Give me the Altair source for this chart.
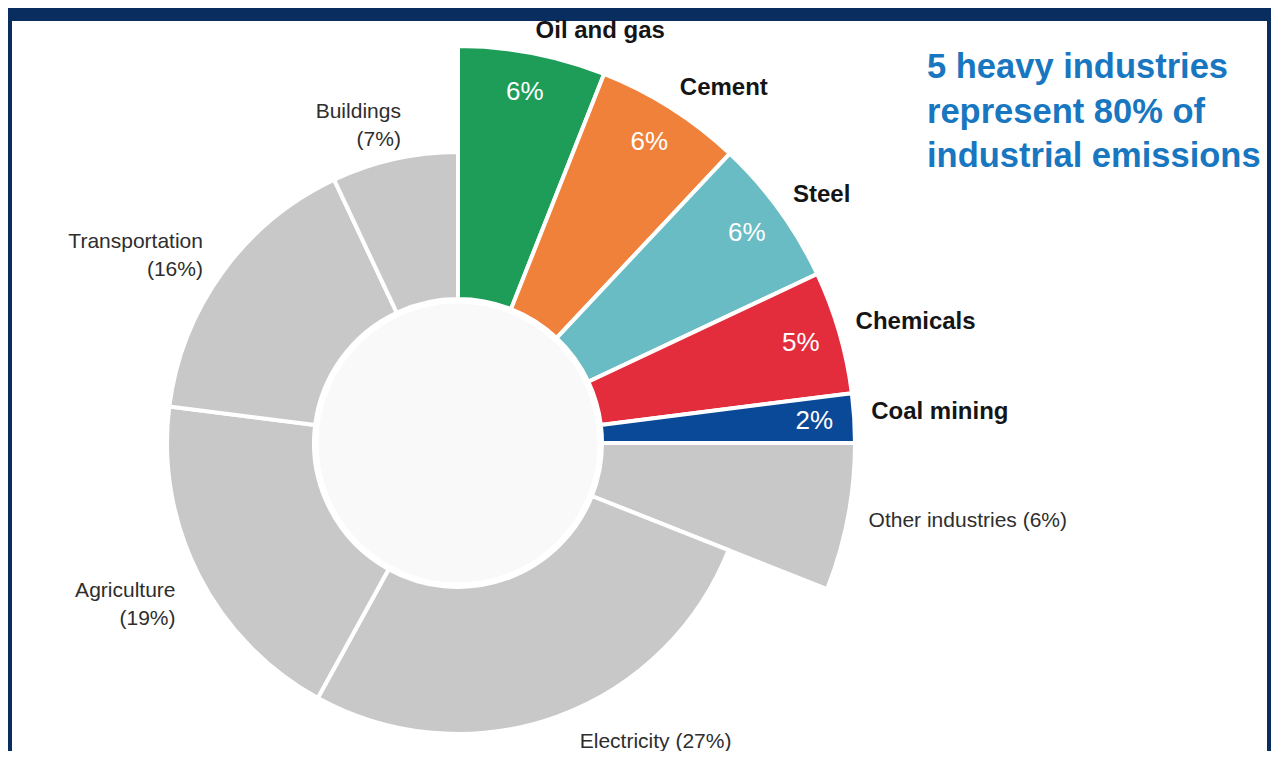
import math
import altair as alt
import pandas as pd

# ---- data ----
sectors = ["Oil and gas", "Cement", "Steel", "Chemicals", "Coal mining",
           "Other industries", "Electricity", "Agriculture", "Transportation", "Buildings"]
shares = [6, 6, 6, 5, 2, 6, 27, 19, 16, 7]
groups = ["heavy", "heavy", "heavy", "heavy", "heavy",
          "other industry", "other", "other", "other", "other"]
colors = ["#1e9d59", "#f0813a", "#69bcc3", "#e32d3d", "#0a4898",
          "#c8c8c8", "#c8c8c8", "#c8c8c8", "#c8c8c8", "#c8c8c8"]
subtitle_lines = ["5 heavy industries", "represent 80% of", "industrial emissions"]

df = pd.DataFrame({"sector": sectors, "share": shares, "group": groups,
                   "order": list(range(len(sectors)))})

# ---- layout ----
W, H = 1255, 730
CX, CY = 446, 422
FONT = "Liberation Sans"
theta_scale = alt.Scale(domain=[0, 100], range=[0, 2 * math.pi])
color_scale = alt.Scale(domain=sectors, range=colors)

base = (
    alt.Chart(df)
    .transform_window(cum="sum(share)", sort=[alt.SortField("order")], frame=[None, 0])
    .transform_calculate(
        start="datum.cum - datum.share",
        mid="datum.cum - datum.share / 2",
        pct="datum.share + '%'",
        two_line="datum.sector + '\\n(' + datum.share + '%)'",
        one_line="datum.sector + ' (' + datum.share + '%)'",
    )
)

pos = dict(x=alt.value(CX), y=alt.value(CY))

long_arcs = base.transform_filter("datum.group != 'other'").mark_arc(
    radius=397, innerRadius=144, stroke="white", strokeWidth=4
).encode(
    theta=alt.Theta("start:Q", scale=theta_scale),
    theta2="cum:Q",
    color=alt.Color("sector:N", scale=color_scale, legend=None),
    **pos,
)

short_arcs = base.transform_filter("datum.group == 'other'").mark_arc(
    radius=291, innerRadius=144, stroke="white", strokeWidth=4
).encode(
    theta=alt.Theta("start:Q", scale=theta_scale),
    theta2="cum:Q",
    color=alt.Color("sector:N", scale=color_scale, legend=None),
    **pos,
)

disc = alt.Chart(pd.DataFrame({"a": [0]})).mark_arc(
    theta=0, theta2=6.2832, fill="#f9f9f9", stroke="white", strokeWidth=3
).encode(radius=alt.value(141), **pos)

names = base.transform_filter("datum.group == 'heavy'").mark_text(
    align="left", baseline="middle", font=FONT, fontSize=24, fontWeight="bold",
    color="#151515", dy=-5
).encode(
    theta=alt.Theta("mid:Q", scale=theta_scale),
    radius=alt.value(414),
    text="sector:N",
    **pos,
)

pcts = base.transform_filter("datum.group == 'heavy'").mark_text(
    align="center", baseline="middle", font=FONT, fontSize=26, color="white"
).encode(
    theta=alt.Theta("mid:Q", scale=theta_scale),
    radius=alt.value(357),
    text="pct:N",
    **pos,
)

gray_left = base.transform_filter("datum.group == 'other' && datum.mid >= 50").mark_text(
    align="right", baseline="middle", font=FONT, fontSize=21, color="#2e2e2e",
    lineBreak="\n", lineHeight=28, dx=16, dy=-4
).encode(
    theta=alt.Theta("mid:Q", scale=theta_scale),
    radius=alt.value(335),
    text="two_line:N",
    **pos,
)

gray_right = base.transform_filter("datum.group == 'other' && datum.mid < 50").mark_text(
    align="left", baseline="middle", font=FONT, fontSize=21, color="#2e2e2e", dx=14
).encode(
    theta=alt.Theta("mid:Q", scale=theta_scale),
    radius=alt.value(318),
    text="one_line:N",
    **pos,
)

other_ind = base.transform_filter("datum.group == 'other industry'").mark_text(
    align="left", baseline="middle", font=FONT, fontSize=21, color="#2e2e2e"
).encode(
    theta=alt.Theta("mid:Q", scale=theta_scale),
    radius=alt.value(418),
    text="one_line:N",
    **pos,
)

subtitle = alt.Chart(pd.DataFrame({"t": ["\n".join(subtitle_lines)]})).mark_text(
    align="left", baseline="middle", font=FONT, fontSize=34.5, fontWeight="bold",
    color="#1877c0", lineBreak="\n", lineHeight=44.5
).encode(text="t:N", x=alt.value(915), y=alt.value(47))

chart = alt.layer(
    long_arcs, short_arcs, disc, pcts, names, gray_left, gray_right, other_ind, subtitle
).properties(
    width=W, height=H,
    background="#0a2d5f",
    padding={"left": 4, "top": 13, "right": 4, "bottom": 0},
    autosize=alt.AutoSizeParams(type="none"),
).configure_view(fill="white", stroke="transparent", strokeWidth=0)

chart.save("out.html", embed_options={"renderer": "svg", "actions": False})
